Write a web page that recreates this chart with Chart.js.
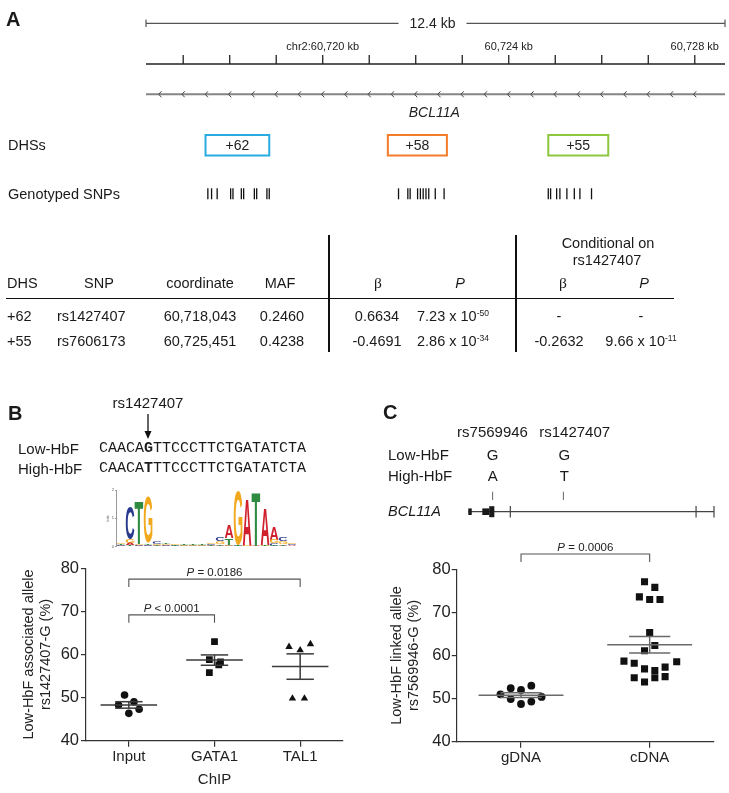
<!DOCTYPE html>
<html>
<head>
<meta charset="utf-8">
<script src="https://cdn.jsdelivr.net/npm/chart.js@4.4.0/dist/chart.umd.min.js"></script>
<style>
  html, body { margin: 0; padding: 0; background: #fff; }
  #page { position: relative; width: 729px; height: 793px; overflow: hidden;
          font-family: "Liberation Sans", Arial, sans-serif; color: #1a1a1a; }
  canvas { position: absolute; }
  .t { position: absolute; white-space: nowrap; line-height: 1; transform: translateY(-50%); }
  .t.c { transform: translate(-50%, -50%); }
  .rule { position: absolute; background: #111; }
  .beta { font-family: "Liberation Serif", serif; font-size: 15.5px; }
  .sup { font-size: 8.5px; position: relative; top: -5px; }
</style>
</head>
<body>
<div id="page">
  <canvas id="trackA" width="729" height="215" style="left:0px;top:0px"></canvas>
  <canvas id="logoB" width="210" height="72" style="left:100px;top:482px"></canvas>
  <canvas id="chartB" width="360" height="258" style="left:0px;top:535px"></canvas>
  <canvas id="geneC" width="279" height="40" style="left:450px;top:484px"></canvas>
  <canvas id="chartC" width="369" height="258" style="left:360px;top:535px"></canvas>
  <svg style="position:absolute;left:0;top:0" width="729" height="793">
    <line x1="148" y1="414" x2="148" y2="433" stroke="#111" stroke-width="1.3"/>
    <polygon points="144.5,431 151.5,431 148,439" fill="#111"/>
  </svg>
</div>

<script>
// ---------- Panel A: locus ----------
const kbMin = 60716.2;
const kbMax = 60728.65;
const scaleBarText = "12.4 kb";
const rulerTicks = [60717, 60718, 60719, 60720, 60721, 60722, 60723, 60724, 60725, 60726, 60727, 60728];
const rulerLabelAt = [60720, 60724, 60728];
const rulerLabelText = ["chr2:60,720 kb", "60,724 kb", "60,728 kb"];
const geneArrowsKb = [60716.5, 60717, 60717.5, 60718, 60718.5, 60719, 60719.5, 60720, 60720.5, 60721,
  60721.5, 60722, 60722.5, 60723, 60723.5, 60724, 60724.5, 60725, 60725.5, 60726, 60726.5, 60727, 60727.5, 60728];
const geneName = "BCL11A";
const geneLabelKb = 60722.4;
const dhsNames = ["+62", "+58", "+55"];
const dhsStart = [60717.48, 60721.40, 60724.85];
const dhsEnd = [60718.85, 60722.67, 60726.14];
const dhsColors = ["#29ABE2", "#F47B2A", "#8DC63F"];
const snpKb = [60717.53, 60717.61, 60717.73, 60718.02, 60718.07, 60718.25, 60718.30, 60718.53, 60718.58, 60718.80, 60718.85,
  60721.63, 60721.83, 60721.88, 60722.04, 60722.10, 60722.16, 60722.22, 60722.28, 60722.42, 60722.61,
  60724.85, 60724.90, 60725.03, 60725.10, 60725.25, 60725.41, 60725.53, 60725.78];

// ---------- Panel A: table ----------
const dhsIds = ["+62", "+55"];
const snpIds = ["rs1427407", "rs7606173"];
const snpCoords = ["60,718,043", "60,725,451"];
const snpMaf = ["0.2460", "0.4238"];
const betaAll = ["0.6634", "-0.4691"];
const pAllMant = ["7.23", "2.86"];
const pAllExp = ["-50", "-34"];
const betaCond = ["-", "-0.2632"];
const pCondMant = ["-", "9.66"];
const pCondExp = ["", "-11"];

// ---------- Panel B: motif logo (bits per position) ----------
const logoPositions = ["1", "2", "3", "4", "5", "6", "7", "8", "9", "10", "11", "12", "13", "14", "15", "16", "17", "18", "19", "20"];
const logoA = [0.03, 0.07, 0.03, 0.04, 0.03, 0.03, 0.02, 0.02, 0.02, 0.02, 0.03, 0.04, 0.45, 0.02, 1.64, 0.02, 1.29, 0.47, 0.06, 0.03];
const logoC = [0.03, 1.17, 0.03, 0.03, 0.08, 0.03, 0.03, 0.02, 0.02, 0.02, 0.04, 0.12, 0.03, 0.02, 0.01, 0.01, 0.02, 0.10, 0.12, 0.04];
const logoG = [0.04, 0.15, 0.03, 1.64, 0.05, 0.03, 0.06, 0.02, 0.02, 0.02, 0.04, 0.10, 0.03, 1.90, 0.02, 0.01, 0.03, 0.12, 0.10, 0.05];
const logoT = [0.03, 0.05, 1.50, 0.06, 0.03, 0.03, 0.02, 0.02, 0.02, 0.02, 0.03, 0.06, 0.23, 0.02, 0.01, 1.87, 0.02, 0.03, 0.03, 0.02];

// ---------- Panel B: ChIP allele fraction ----------
const groupsB = ["Input", "GATA1", "TAL1"];
const inputVals = [50.6, 48.3, 49.05, 46.35, 47.3];
const inputJitter = [-0.05, -0.12, 0.06, 0, 0.12];
const gata1Vals = [63.0, 58.8, 58.3, 57.6, 55.8];
const gata1Jitter = [0, -0.06, 0.07, 0.05, -0.06];
const tal1Vals = [61.8, 61.0, 62.4, 49.8, 49.8];
const tal1Jitter = [-0.13, 0, 0.12, -0.09, 0.05];
const meanB = [48.3, 58.7, 57.2];
const semB = [0.75, 1.2, 2.95];
const bracketFromB = [0, 0];
const bracketToB = [2, 1];
const bracketLevelB = [77.5, 69.2];
const bracketTextB = ["= 0.0186", "< 0.0001"];

// ---------- Panel C: gene schematic (percent of drawn span) ----------
const exonThinC = [[0, 1.4], [5.7, 8.5]];
const exonThickC = [[8.5, 10.6]];
const exonTicksC = [17.1, 92.7, 100];
const snpMarksC = [9.9, 38.7];

// ---------- Panel C: allele fraction ----------
const groupsC = ["gDNA", "cDNA"];
const gdnaVals = [51.0, 49.9, 52.4, 52.0, 53.0, 48.75, 49.3, 50.4];
const gdnaJitter = [-0.16, -0.08, -0.08, 0, 0.08, 0, 0.08, 0.16];
const cdnaVals = [77.1, 75.8, 73.6, 73.0, 73.0, 65.3, 62.3, 61.1, 58.7, 58.2, 58.55, 57.3, 56.9, 56.5, 54.85, 53.85, 54.85, 55.1];
const cdnaJitter = [-0.04, 0.04, -0.08, 0, 0.08, 0, 0.04, -0.04, -0.2, -0.12, 0.21, 0.12, -0.04, 0.04, -0.12, -0.04, 0.04, 0.12];
const meanC = [50.8, 62.5];
const semC = [0.55, 1.9];
const bracketFromC = [0];
const bracketToC = [1];
const bracketLevelC = [83.55];
const bracketTextC = ["= 0.0006"];

Chart.defaults.font.family = '"Liberation Sans", Arial, sans-serif';
Chart.defaults.color = "#222";

const page = document.getElementById("page");
function put(html, x, y, o = {}) {
    const d = document.createElement("div");
    d.className = "t" + (o.center ? " c" : "");
    d.style.left = x + "px";
    d.style.top = y + "px";
    d.style.fontSize = (o.size || 14.5) + "px";
    if (o.bold) d.style.fontWeight = "bold";
    if (o.italic) d.style.fontStyle = "italic";
    if (o.family) d.style.fontFamily = o.family;
    d.innerHTML = html;
    page.appendChild(d);
}
function rule(x, y, w, h) {
    const d = document.createElement("div");
    d.className = "rule";
    d.style.left = x + "px"; d.style.top = y + "px";
    d.style.width = w + "px"; d.style.height = h + "px";
    page.appendChild(d);
}
function seg(ctx, x1, y1, x2, y2) {
    ctx.beginPath();
    ctx.moveTo(x1, y1);
    ctx.lineTo(x2, y2);
    ctx.stroke();
}

// ---------- text labels ----------
put("A", 6, 19, { bold: true, size: 20 });
put("DHSs", 8, 145);
put("Genotyped SNPs", 8, 194);

put("Conditional on", 608, 243, { center: true });
put("rs1427407", 607, 259.5, { center: true });
put("DHS", 7, 283);
put("SNP", 99, 283, { center: true });
put("coordinate", 200, 283, { center: true });
put("MAF", 280, 283, { center: true });
put('<span class="beta">β</span>', 378, 283, { center: true });
put("P", 460, 283, { center: true, italic: true });
put('<span class="beta">β</span>', 563, 283, { center: true });
put("P", 644, 283, { center: true, italic: true });

const rowY = [315.5, 341];
dhsIds.forEach((v, i) => {
    put(v, 7, rowY[i]);
    put(snpIds[i], 57, rowY[i]);
    put(snpCoords[i], 200, rowY[i], { center: true });
    put(snpMaf[i], 282, rowY[i], { center: true });
    put(betaAll[i], 377, rowY[i], { center: true });
    put(pAllMant[i] + ' x 10<span class="sup">' + pAllExp[i] + "</span>", 453, rowY[i], { center: true });
    put(betaCond[i], 559, rowY[i], { center: true });
    put(pCondExp[i] ? pCondMant[i] + ' x 10<span class="sup">' + pCondExp[i] + "</span>" : pCondMant[i], 641, rowY[i], { center: true });
});
rule(6, 297.5, 668, 1.5);
rule(328, 235, 2, 117);
rule(514.5, 235, 2, 117);

put("B", 8, 412.5, { bold: true, size: 20 });
put("rs1427407", 148, 401.5, { center: true, size: 15 });
put("Low-HbF", 18, 448, { size: 15 });
put("High-HbF", 18, 468, { size: 15 });
put("CAACA<b>G</b>TTCCCTTCTGATATCTA", 99, 448, { size: 15, family: '"Liberation Mono", monospace' });
put("CAACA<b>T</b>TTCCCTTCTGATATCTA", 99, 468, { size: 15, family: '"Liberation Mono", monospace' });

put("C", 383, 411.5, { bold: true, size: 20 });
put("rs7569946", 492.5, 430.5, { center: true, size: 15 });
put("rs1427407", 574.7, 430.5, { center: true, size: 15 });
put("Low-HbF", 388, 454.3, { size: 15 });
put("High-HbF", 388, 475, { size: 15 });
put("G", 492.7, 454.3, { center: true, size: 15 });
put("G", 564.3, 454.3, { center: true, size: 15 });
put("A", 492.7, 475, { center: true, size: 15 });
put("T", 564.3, 475, { center: true, size: 15 });
put("BCL11A", 388, 511, { italic: true, size: 14.5 });

// ---------- Panel A track chart ----------
const trackPlugin = {
    id: "trackA",
    beforeDatasetsDraw(chart) {
        const ctx = chart.ctx, xs = chart.scales.x;
        const px = v => xs.getPixelForValue(v);
        const L = px(kbMin), R = px(kbMax);
        ctx.save();
        ctx.textAlign = "center";
        ctx.textBaseline = "middle";

        // 12.4 kb bar
        ctx.strokeStyle = "#555";
        ctx.lineWidth = 1.2;
        seg(ctx, L, 23.3, R, 23.3);
        seg(ctx, L, 19.5, L, 27);
        seg(ctx, R, 19.5, R, 27);
        ctx.font = '14px "Liberation Sans"';
        const tw = ctx.measureText(scaleBarText).width;
        const mid = (L + R) / 2 - 3;
        ctx.fillStyle = "#fff";
        ctx.fillRect(mid - tw / 2 - 11, 14, tw + 22, 18);
        ctx.fillStyle = "#222";
        ctx.fillText(scaleBarText, mid, 23.8);

        // coordinate ruler
        ctx.strokeStyle = "#222";
        ctx.lineWidth = 1.3;
        seg(ctx, L, 64, R, 64);
        rulerTicks.forEach(t => seg(ctx, px(t), 55, px(t), 64));
        ctx.font = '11px "Liberation Sans"';
        rulerLabelAt.forEach((t, i) => ctx.fillText(rulerLabelText[i], px(t), 47));

        // gene body with strand arrows
        ctx.strokeStyle = "#858585";
        ctx.lineWidth = 2;
        seg(ctx, L, 94.3, R, 94.3);
        ctx.strokeStyle = "#444";
        ctx.lineWidth = 1;
        geneArrowsKb.forEach(k => {
            const x = px(k);
            ctx.beginPath();
            ctx.moveTo(x + 1.5, 91.3);
            ctx.lineTo(x - 1.2, 94.3);
            ctx.lineTo(x + 1.5, 97.3);
            ctx.stroke();
        });
        ctx.font = 'italic 14px "Liberation Sans"';
        ctx.fillText(geneName, px(geneLabelKb), 113);

        // DHS boxes
        ctx.lineWidth = 2;
        ctx.font = '14px "Liberation Sans"';
        dhsNames.forEach((n, i) => {
            const a = px(dhsStart[i]), b = px(dhsEnd[i]);
            ctx.strokeStyle = dhsColors[i];
            ctx.strokeRect(a, 135, b - a, 20.5);
            ctx.fillText(n, (a + b) / 2, 145.8);
        });
        ctx.restore();
    }
};

new Chart(document.getElementById("trackA"), {
    type: "scatter",
    data: {
        datasets: [{
            data: snpKb.map(v => ({ x: v, y: 193.8 })),
            pointStyle: "line",
            rotation: 90,
            radius: 5.5,
            borderColor: "#111",
            borderWidth: 1.3,
        }],
    },
    options: {
        responsive: false,
        animation: false,
        events: [],
        layout: { padding: { left: 146, right: 4, top: 0, bottom: 0 }, autoPadding: false },
        plugins: { legend: { display: false }, tooltip: { enabled: false } },
        scales: {
            x: { type: "linear", min: kbMin, max: kbMax, display: false },
            y: { min: 0, max: 215, reverse: true, display: false },
        },
    },
    plugins: [trackPlugin],
});

// ---------- Panel B logo ----------
const logoLetters = ["A", "C", "G", "T"];
const logoColors = { A: "#D0202E", C: "#2A3B8F", G: "#F2A81D", T: "#2E8B3F" };
const logoBits = { A: logoA, C: logoC, G: logoG, T: logoT };
const logoStacks = { A: [], C: [], G: [], T: [] };
logoPositions.forEach((p, i) => {
    const order = logoLetters.slice().sort((a, b) => logoBits[a][i] - logoBits[b][i]);
    let acc = 0;
    order.forEach(l => {
        logoStacks[l][i] = [acc, acc + logoBits[l][i]];
        acc += logoBits[l][i];
    });
});

function drawLetter(ctx, letter, color, left, top, w, h) {
    ctx.save();
    ctx.font = 'bold 100px "Liberation Sans"';
    ctx.textAlign = "left";
    ctx.textBaseline = "alphabetic";
    const m = ctx.measureText(letter);
    const gw = m.actualBoundingBoxLeft + m.actualBoundingBoxRight;
    const gh = m.actualBoundingBoxAscent + m.actualBoundingBoxDescent;
    ctx.translate(left, top);
    ctx.scale(w / gw, h / gh);
    ctx.fillStyle = color;
    ctx.fillText(letter, m.actualBoundingBoxLeft, m.actualBoundingBoxAscent);
    ctx.restore();
}

const logoPlugin = {
    id: "logoLetters",
    afterDatasetsDraw(chart) {
        const ctx = chart.ctx;
        chart.data.datasets.forEach((ds, di) => {
            chart.getDatasetMeta(di).data.forEach(bar => {
                const top = Math.min(bar.y, bar.base), bottom = Math.max(bar.y, bar.base);
                if (bottom - top < 0.3) return;
                drawLetter(ctx, ds.label, logoColors[ds.label], bar.x - bar.width / 2, top, bar.width, bottom - top);
            });
        });
    }
};

new Chart(document.getElementById("logoB"), {
    type: "bar",
    data: {
        labels: logoPositions,
        datasets: logoLetters.map(l => ({
            label: l,
            data: logoStacks[l],
            backgroundColor: "rgba(0,0,0,0)",
            grouped: false,
            barPercentage: 1,
            categoryPercentage: 0.96,
        })),
    },
    options: {
        responsive: false,
        animation: false,
        events: [],
        layout: { padding: { left: 0, right: 13.5, top: 8, bottom: 0 }, autoPadding: false },
        plugins: { legend: { display: false }, tooltip: { enabled: false } },
        scales: {
            x: {
                afterFit: s => { s.height = 7.3; },
                grid: { display: false },
                border: { display: false },
                ticks: { font: { size: 3 }, color: "#888", padding: 0.5, maxRotation: 90, minRotation: 90, autoSkip: false },
            },
            y: {
                min: 0,
                max: 2,
                afterFit: s => { s.width = 16.5; },
                ticks: { stepSize: 1, font: { size: 4 }, color: "#555", padding: 1 },
                grid: { drawOnChartArea: false, tickLength: 1.5, color: "#555", lineWidth: 0.6 },
                border: { color: "#555", width: 0.6 },
                title: { display: true, text: "bits", font: { size: 4 }, color: "#555", padding: { top: 5, bottom: 0 } },
            },
        },
    },
    plugins: [logoPlugin],
});

// ---------- dot plots ----------
function statsPlugin(means, sems, from, to, level, texts, lineColor) {
    return {
        id: "stats",
        afterDraw(chart) {
            const { ctx, scales: { x, y } } = chart;
            const X = v => x.getPixelForValue(v), Y = v => y.getPixelForValue(v);
            ctx.save();
            ctx.strokeStyle = lineColor;
            ctx.lineWidth = 1.5;
            means.forEach((m, i) => {
                const s = sems[i];
                seg(ctx, X(i - 0.33), Y(m), X(i + 0.33), Y(m));
                seg(ctx, X(i), Y(m - s), X(i), Y(m + s));
                seg(ctx, X(i - 0.16), Y(m + s), X(i + 0.16), Y(m + s));
                seg(ctx, X(i - 0.16), Y(m - s), X(i + 0.16), Y(m - s));
            });
            ctx.strokeStyle = "#555";
            ctx.lineWidth = 1.1;
            ctx.fillStyle = "#222";
            ctx.textAlign = "left";
            ctx.textBaseline = "alphabetic";
            from.forEach((f, k) => {
                const x1 = X(f), x2 = X(to[k]), by = Y(level[k]);
                ctx.beginPath();
                ctx.moveTo(x1, by + 8);
                ctx.lineTo(x1, by);
                ctx.lineTo(x2, by);
                ctx.lineTo(x2, by + 8);
                ctx.stroke();
                const italic = 'italic 11.5px "Liberation Sans"', normal = '11.5px "Liberation Sans"';
                ctx.font = italic;
                const wP = ctx.measureText("P").width;
                ctx.font = normal;
                const rest = " " + texts[k];
                const wR = ctx.measureText(rest).width;
                const sx = (x1 + x2) / 2 - (wP + wR) / 2;
                ctx.font = italic;
                ctx.fillText("P", sx, by - 3);
                ctx.font = normal;
                ctx.fillText(rest, sx + wP, by - 3);
            });
            ctx.restore();
        }
    };
}

function points(vals, jitter, g) {
    return vals.map((v, i) => ({ x: g + jitter[i], y: v }));
}

function dotPlot(id, groups, datasets, o, plugin) {
    return new Chart(document.getElementById(id), {
        type: "scatter",
        data: { datasets },
        options: {
            responsive: false,
            animation: false,
            events: [],
            layout: { padding: { left: 0, right: o.padRight, top: o.padTop, bottom: 0 }, autoPadding: false },
            plugins: { legend: { display: false }, tooltip: { enabled: false } },
            scales: {
                x: {
                    type: "linear",
                    min: -0.5,
                    max: groups.length - 0.5,
                    afterBuildTicks: s => { s.ticks = groups.map((g, i) => ({ value: i })); },
                    afterFit: s => { s.height = o.xHeight; },
                    ticks: { callback: v => groups[v], font: { size: 15 }, color: "#222", padding: 1 },
                    grid: { drawOnChartArea: false, tickLength: 6, color: "#333", lineWidth: 1.2 },
                    border: { color: "#333", width: 1.2 },
                    title: o.xTitle ? { display: true, text: o.xTitle, font: { size: 15 }, color: "#222", padding: { top: 0, bottom: 4 } } : { display: false },
                },
                y: {
                    min: 40,
                    max: 80,
                    afterFit: s => { s.width = o.yWidth; },
                    ticks: { stepSize: 10, font: { size: 16.5 }, color: "#222", padding: o.tickPad },
                    grid: { drawOnChartArea: false, tickLength: 5, color: "#333", lineWidth: 1.2 },
                    border: { color: "#333", width: 1.2 },
                    title: { display: true, text: o.yTitle, font: { size: 14.5, lineHeight: 1.2 }, color: "#222", padding: { top: o.titlePad, bottom: 0 } },
                },
            },
        },
        plugins: [plugin],
    });
}

dotPlot("chartB", groupsB, [
    { data: points(inputVals, inputJitter, 0), pointStyle: "circle", pointRadius: 3.8, backgroundColor: "#111", borderWidth: 0 },
    { data: points(gata1Vals, gata1Jitter, 1), pointStyle: "rect", pointRadius: 4.8, backgroundColor: "#111", borderWidth: 0 },
    { data: points(tal1Vals, tal1Jitter, 2), pointStyle: "triangle", pointRadius: 4.3, backgroundColor: "#111", borderWidth: 0 },
], {
    padRight: 17, padTop: 33.3, xHeight: 52.3, yWidth: 86, tickPad: 2, titlePad: 19.8,
    xTitle: "ChIP", yTitle: ["Low-HbF associated allele", "rs1427407-G (%)"],
}, statsPlugin(meanB, semB, bracketFromB, bracketToB, bracketLevelB, bracketTextB, "#3a3a3a"));

dotPlot("chartC", groupsC, [
    { data: points(gdnaVals, gdnaJitter, 0), pointStyle: "circle", pointRadius: 3.9, backgroundColor: "#111", borderWidth: 0 },
    { data: points(cdnaVals, cdnaJitter, 1), pointStyle: "rect", pointRadius: 5, backgroundColor: "#111", borderWidth: 0 },
], {
    padRight: 15, padTop: 34.3, xHeight: 51.3, yWidth: 96.7, tickPad: 1, titlePad: 28.3,
    xTitle: null, yTitle: ["Low-HbF linked allele", "rs7569946-G (%)"],
}, statsPlugin(meanC, semC, bracketFromC, bracketToC, bracketLevelC, bracketTextC, "#6a6a6a"));

// ---------- Panel C gene schematic ----------
const genePlugin = {
    id: "geneC",
    afterDraw(chart) {
        const ctx = chart.ctx, xs = chart.scales.x;
        const px = v => xs.getPixelForValue(v);
        const yl = 27.7;
        ctx.save();
        ctx.strokeStyle = "#444";
        ctx.fillStyle = "#1a1a1a";
        ctx.lineWidth = 1.2;
        seg(ctx, px(0), yl, px(100), yl);
        exonThinC.forEach(([a, b]) => ctx.fillRect(px(a), yl - 3.3, px(b) - px(a), 6.6));
        exonThickC.forEach(([a, b]) => ctx.fillRect(px(a), yl - 5.5, px(b) - px(a), 11));
        exonTicksC.forEach(t => seg(ctx, px(t), yl - 5.8, px(t), yl + 5.8));
        ctx.strokeStyle = "#666";
        ctx.lineWidth = 1;
        snpMarksC.forEach(t => seg(ctx, px(t), 7.7, px(t), 16));
        ctx.restore();
    }
};

new Chart(document.getElementById("geneC"), {
    type: "scatter",
    data: { datasets: [] },
    options: {
        responsive: false,
        animation: false,
        events: [],
        layout: { padding: { left: 18.3, right: 15, top: 0, bottom: 0 }, autoPadding: false },
        plugins: { legend: { display: false }, tooltip: { enabled: false } },
        scales: {
            x: { type: "linear", min: 0, max: 100, display: false },
            y: { min: 0, max: 40, display: false },
        },
    },
    plugins: [genePlugin],
});
</script>
</body>
</html>
